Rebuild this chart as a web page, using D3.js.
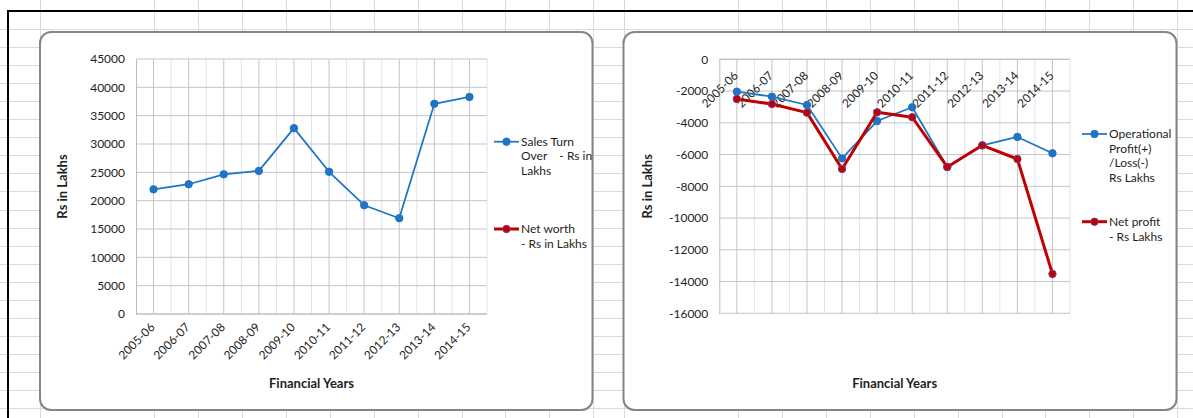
<!DOCTYPE html>
<html>
<head>
<meta charset="utf-8">
<script src="https://cdn.jsdelivr.net/npm/d3@7"></script>
<style>
  html, body { margin: 0; padding: 0; background: #fff; }
  svg { display: block; }
  text { font-family: Lato, "Open Sans", "Liberation Sans", sans-serif; fill: #1e1e1e; }
</style>
</head>
<body>
<svg id="sheet" width="1193" height="418"></svg>
<script>
// ---- data ----
const categories = ["2005-06", "2006-07", "2007-08", "2008-09", "2009-10",
                    "2010-11", "2011-12", "2012-13", "2013-14", "2014-15"];

// Sales turnover and net worth, Rs in lakhs
const salesTurnover = [22000, 22900, 24650, 25250, 32800, 25100, 19200, 16900, 37100, 38300];
const netWorth      = [null, null, null, null, null, null, null, null, null, null];

// Operational profit/loss and net profit, Rs in lakhs
const operationalProfit = [-2040, -2350, -2880, -6240, -3890, -3020, -6780, -5420, -4890, -5920];
const netProfit         = [-2500, -2820, -3360, -6910, -3340, -3650, -6780, -5420, -6280, -13520];

const salesTicks  = [0, 5000, 10000, 15000, 20000, 25000, 30000, 35000, 40000, 45000];
const profitTicks = [0, -2000, -4000, -6000, -8000, -10000, -12000, -14000, -16000];

const salesLegend  = [["Sales Turn", "Over    - Rs in", "Lakhs"], ["Net worth", "- Rs in Lakhs"]];
const profitLegend = [["Operational", "Profit(+)", "/Loss(-)", "Rs Lakhs"], ["Net profit", "- Rs Lakhs"]];

const BLUE = "#1f74c4";
const RED = "#c00000";

const svg = d3.select("#sheet");
svg.append("rect").attr("width", 1193).attr("height", 418).attr("fill", "#fff");

// ---- worksheet cell grid behind the charts ----
const colEdges = [40, 154, 198, 242, 286, 330, 374, 418, 462, 505, 549, 593,
                  624, 738, 782, 826, 870, 914, 958, 1002, 1045, 1089, 1133, 1177];
const rowEdges = d3.range(29, 418, 18.05);
const cells = svg.append("g").attr("stroke", "#dadada").attr("stroke-width", 1);
colEdges.forEach(x => cells.append("line")
  .attr("x1", x + 0.5).attr("x2", x + 0.5).attr("y1", 0).attr("y2", 418));
rowEdges.forEach(y => cells.append("line")
  .attr("x1", 0).attr("x2", 1193).attr("y1", Math.round(y) + 0.5).attr("y2", Math.round(y) + 0.5));

// thick selection border
svg.append("path")
  .attr("d", "M8,418 V11 H1193")
  .attr("fill", "none").attr("stroke", "#000").attr("stroke-width", 2);

// ---- one chart object ----
function drawChart(cfg) {
  const g = svg.append("g");

  g.append("rect")
    .attr("x", cfg.box[0]).attr("y", cfg.box[1])
    .attr("width", cfg.box[2]).attr("height", cfg.box[3])
    .attr("rx", 11).attr("ry", 11)
    .attr("fill", "#fff").attr("stroke", "#858585").attr("stroke-width", 2);

  const x = d3.scaleBand().domain(categories).range([cfg.plot.x0, cfg.plot.x1]);
  const y = d3.scaleLinear().domain(cfg.domain).range([cfg.plot.y1, cfg.plot.y0]);
  const bw = x.bandwidth();

  // minor vertical gridlines at category boundaries
  const edges = categories.map(c => x(c)).concat([cfg.plot.x1]);
  g.append("g").selectAll("line").data(edges.slice(1)).join("line")
    .attr("x1", d => d).attr("x2", d => d)
    .attr("y1", cfg.plot.y0).attr("y2", cfg.plot.y1)
    .attr("stroke", "#dde4ee").attr("stroke-width", 1);

  // major vertical gridlines through category centres
  g.append("g").selectAll("line").data(categories).join("line")
    .attr("x1", d => x(d) + bw / 2).attr("x2", d => x(d) + bw / 2)
    .attr("y1", cfg.plot.y0).attr("y2", cfg.plot.y1)
    .attr("stroke", "#c4c4c4").attr("stroke-width", 1);

  // horizontal gridlines
  g.append("g").selectAll("line").data(cfg.ticks).join("line")
    .attr("x1", cfg.plot.x0).attr("x2", cfg.plot.x1)
    .attr("y1", d => y(d)).attr("y2", d => y(d))
    .attr("stroke", "#c4c4c4").attr("stroke-width", 1);

  // value axis
  const yAxis = g.append("g")
    .attr("transform", `translate(${cfg.plot.x0},0)`)
    .call(d3.axisLeft(y).tickValues(cfg.ticks).tickSize(0).tickPadding(11).tickFormat(d => String(d)));
  yAxis.select(".domain").attr("stroke", "#bcbcbc");
  yAxis.selectAll("text")
    .style("font-family", "Lato, 'Open Sans', sans-serif")
    .style("font-size", "12px").attr("fill", "#1e1e1e");

  // category axis line at zero
  g.append("line")
    .attr("x1", cfg.plot.x0).attr("x2", cfg.plot.x1)
    .attr("y1", y(0)).attr("y2", y(0))
    .attr("stroke", "#bcbcbc").attr("stroke-width", 1);

  // category labels, rotated
  g.append("g").selectAll("text").data(categories).join("text")
    .attr("transform", d => `translate(${x(d) + bw / 2 + 2},${y(0) + cfg.labelDrop}) rotate(-45)`)
    .attr("text-anchor", "end")
    .style("font-size", "11.8px")
    .text(d => d);

  // axis titles
  g.append("text")
    .attr("transform", `translate(${cfg.yTitleX},${(cfg.plot.y0 + cfg.plot.y1) / 2}) rotate(-90)`)
    .attr("text-anchor", "middle").attr("dy", "0.35em")
    .style("font-size", "13px").style("font-weight", "bold")
    .text("Rs in Lakhs");
  g.append("text")
    .attr("x", (cfg.plot.x0 + cfg.plot.x1) / 2).attr("y", 388)
    .attr("text-anchor", "middle")
    .style("font-size", "13px").style("font-weight", "bold")
    .text("Financial Years");

  // series
  cfg.series.forEach(s => {
    const pts = categories.map((c, i) => ({ c, v: s.values[i] }));
    const line = d3.line()
      .defined(d => d.v != null)
      .x(d => x(d.c) + bw / 2).y(d => y(d.v));
    g.append("path").datum(pts)
      .attr("d", line)
      .attr("fill", "none").attr("stroke", s.color)
      .attr("stroke-width", s.width).attr("stroke-linejoin", "round");
    g.append("g").selectAll("circle").data(pts.filter(d => d.v != null)).join("circle")
      .attr("cx", d => x(d.c) + bw / 2).attr("cy", d => y(d.v))
      .attr("r", 3.7)
      .attr("fill", s.color).attr("stroke", s.markerStroke).attr("stroke-width", 1);
  });

  // legend
  cfg.series.forEach((s, k) => {
    const L = cfg.legend[k];
    const lg = g.append("g");
    lg.append("line")
      .attr("x1", L.x).attr("x2", L.x + 25).attr("y1", L.y).attr("y2", L.y)
      .attr("stroke", s.color).attr("stroke-width", s.width);
    lg.append("circle")
      .attr("cx", L.x + 12.5).attr("cy", L.y).attr("r", 3.7)
      .attr("fill", s.color).attr("stroke", s.markerStroke).attr("stroke-width", 1);
    const t = lg.append("text")
      .attr("x", L.x + 27).attr("y", L.y + 4)
      .style("font-size", "12px").style("white-space", "pre");
    L.lines.forEach((ln, i) => {
      t.append("tspan").attr("x", L.x + 27).attr("y", L.y + 4 + i * L.lh).text(ln);
    });
  });
}

drawChart({
  box: [40, 32, 552.5, 378],
  plot: { x0: 136, x1: 487, y0: 59, y1: 314 },
  domain: [0, 45000],
  ticks: salesTicks,
  labelDrop: 14,
  yTitleX: 62,
  series: [
    { values: salesTurnover, color: BLUE, width: 1.75, markerStroke: BLUE },
    { values: netWorth, color: RED, width: 3, markerStroke: "#7a3a8f" }
  ],
  legend: [
    { x: 494, y: 141.7, lh: 14.7, lines: salesLegend[0] },
    { x: 494, y: 229, lh: 15, lines: salesLegend[1] }
  ]
});

drawChart({
  box: [623.5, 32, 553, 378],
  plot: { x0: 719.3, x1: 1070, y0: 59.3, y1: 313.3 },
  domain: [-16000, 0],
  ticks: profitTicks,
  labelDrop: 17,
  yTitleX: 647,
  series: [
    { values: operationalProfit, color: BLUE, width: 1.75, markerStroke: BLUE },
    { values: netProfit, color: RED, width: 3, markerStroke: "#7a3a8f" }
  ],
  legend: [
    { x: 1082, y: 134, lh: 14.5, lines: profitLegend[0] },
    { x: 1082, y: 221.7, lh: 15, lines: profitLegend[1] }
  ]
});
</script>
</body>
</html>
